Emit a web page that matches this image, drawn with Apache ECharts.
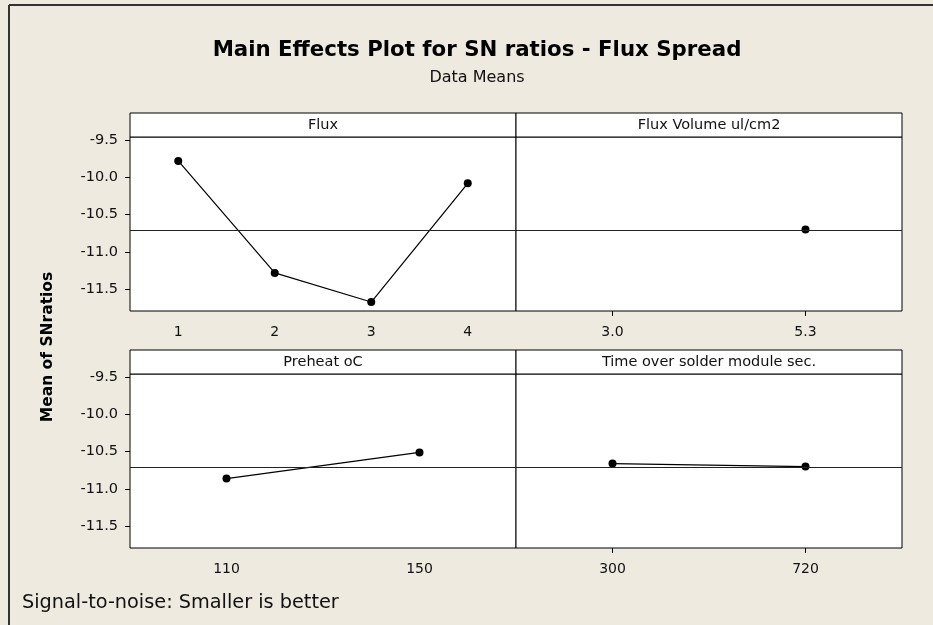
<!DOCTYPE html>
<html>
<head>
<meta charset="utf-8">
<script src="https://cdn.jsdelivr.net/npm/echarts@6/dist/echarts.min.js"></script>
<style>
  html, body { margin: 0; padding: 0; background: #eeeae0; }
  #figure { width: 933px; height: 625px; }
</style>
</head>
<body>
<div id="figure"></div>
<script>
// factor levels and mean SN ratios
const fluxLevels = ['1', '2', '3', '4'];
const fluxMeans = [-9.78, -11.28, -11.67, -10.08];
const volumeLevels = ['3.0', '5.3'];
const volumeMeans = ['-', -10.70];
const preheatLevels = ['110', '150'];
const preheatMeans = [-10.86, -10.51];
const timeLevels = ['300', '720'];
const timeMeans = [-10.66, -10.70];
const overallMean = -10.71;
const yTicks = [-11.5, -11.0, -10.5, -10.0, -9.5];
const panelTitles = ['Flux', 'Flux Volume ul/cm2', 'Preheat oC', 'Time over solder module sec.'];

const font = 'DejaVu Sans';
const panels = [
    {left: 130, top: 137, levels: fluxLevels, means: fluxMeans, labels: true, ticks: false},
    {left: 516, top: 137, levels: volumeLevels, means: volumeMeans, labels: false, ticks: true},
    {left: 130, top: 374, levels: preheatLevels, means: preheatMeans, labels: true, ticks: false},
    {left: 516, top: 374, levels: timeLevels, means: timeMeans, labels: false, ticks: true}
];
const W = 386, H = 174, HEAD = 24;

const figure = echarts.init(document.getElementById('figure'));

const graphic = [
    {type: 'line', shape: {x1: 9, y1: 5, x2: 933, y2: 5}, style: {stroke: '#333', lineWidth: 2}},
    {type: 'line', shape: {x1: 9, y1: 5, x2: 9, y2: 625}, style: {stroke: '#333', lineWidth: 2}},
    {type: 'text', x: 477, y: 50, style: {text: 'Main Effects Plot for SN ratios - Flux Spread', font: 'bold 21.3px ' + font, fill: '#000', textAlign: 'center', textVerticalAlign: 'middle'}},
    {type: 'text', x: 477, y: 78, style: {text: 'Data Means', font: '16px ' + font, fill: '#111', textAlign: 'center', textVerticalAlign: 'middle'}},
    {type: 'text', x: 48, y: 347, rotation: Math.PI / 2, style: {text: 'Mean of SNratios', font: 'bold 15.5px ' + font, fill: '#000', textAlign: 'center', textVerticalAlign: 'middle'}},
    {type: 'text', x: 22, y: 603, style: {text: 'Signal-to-noise: Smaller is better', font: '19.3px ' + font, fill: '#111', textAlign: 'left', textVerticalAlign: 'middle'}}
];
panels.forEach(function (p, i) {
    graphic.push({type: 'rect', shape: {x: p.left, y: p.top - HEAD, width: W, height: HEAD},
        style: {fill: '#fff', stroke: '#000', lineWidth: 1}});
    graphic.push({type: 'text', x: p.left + W / 2, y: p.top - HEAD / 2,
        style: {text: panelTitles[i], font: '14.5px ' + font, fill: '#111', textAlign: 'center', textVerticalAlign: 'middle'}});
});

figure.setOption({
    backgroundColor: '#eeeae0',
    animation: false,
    graphic: graphic,
    grid: panels.map(function (p) {
        return {left: p.left, top: p.top, width: W, height: H, show: true,
            backgroundColor: '#fff', borderColor: '#000', borderWidth: 1};
    }),
    xAxis: panels.map(function (p, i) {
        return {
            type: 'category', gridIndex: i, data: p.levels, boundaryGap: true,
            axisLine: {show: false},
            axisTick: {show: p.ticks, alignWithLabel: true, length: 5, lineStyle: {color: '#000'}},
            axisLabel: {fontFamily: font, fontSize: 14, color: '#111', margin: 14}
        };
    }),
    yAxis: panels.map(function (p, i) {
        return {
            type: 'value', gridIndex: i, min: -11.79, max: -9.46,
            axisLine: {show: false},
            splitLine: {show: false},
            axisTick: {show: p.labels, length: 5, customValues: yTicks, lineStyle: {color: '#000'}},
            axisLabel: {show: p.labels, customValues: yTicks, fontFamily: font, fontSize: 14.5, color: '#111', margin: 12,
                formatter: function (v) { return v.toFixed(1); }}
        };
    }),
    series: panels.map(function (p, i) {
        return {
            type: 'line', xAxisIndex: i, yAxisIndex: i, data: p.means,
            symbol: 'circle', symbolSize: 8, connectNulls: false,
            itemStyle: {color: '#000'},
            lineStyle: {color: '#000', width: 1.2},
            markLine: {
                silent: true, symbol: 'none', label: {show: false},
                lineStyle: {color: '#222', width: 1, type: 'solid'},
                data: [{yAxis: overallMean}]
            }
        };
    })
});
</script>
</body>
</html>
